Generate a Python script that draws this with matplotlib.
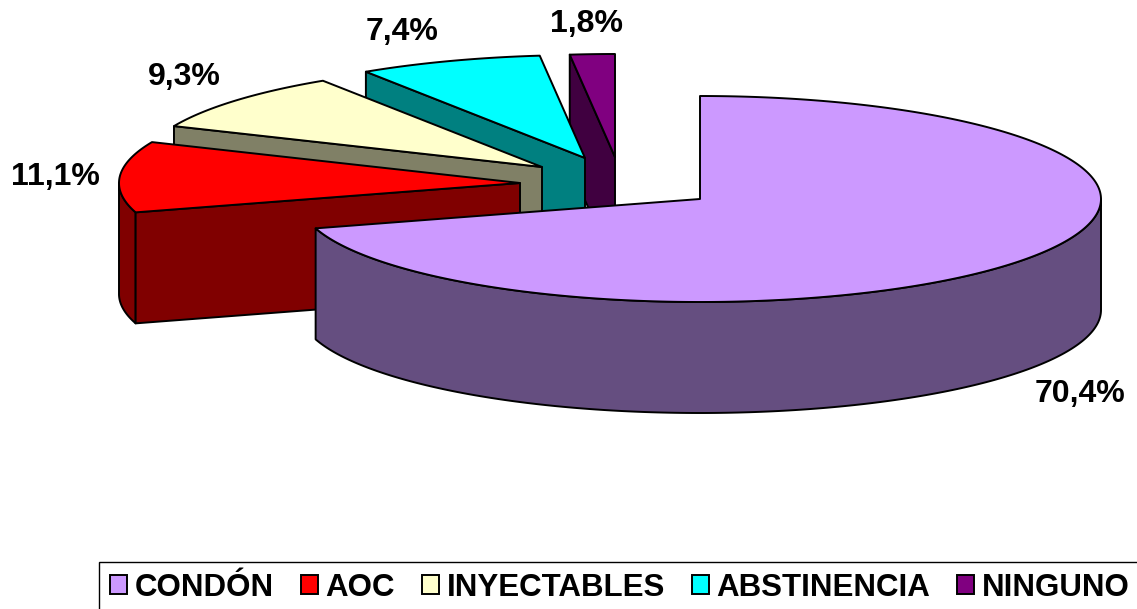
import numpy as np
import matplotlib.pyplot as plt
from matplotlib.patches import Polygon, Patch

# Métodos anticonceptivos (%)
categories = ['CONDÓN', 'AOC', 'INYECTABLES', 'ABSTINENCIA', 'NINGUNO']
percent = [70.4, 11.1, 9.3, 7.4, 1.8]
top_colors = ['#CC99FF', '#FF0000', '#FFFFCC', '#00FFFF', '#800080']
side_colors = ['#654E80', '#800000', '#808066', '#008080', '#400040']

## Layout (pixels)
W, H = 1137, 609
cx, cy = 700, 199          # pie centre
rx, ry = 401, 103          # ellipse radii of the top face
depth = 111                # thickness of the pie
explode = [(0, 0), (-180, -16), (-158, -32), (-115, -41), (-85, -42)]
label_pos = [(1080, 394), (55, 177), (184, 77), (402, 32), (587, 24)]

font = 'Liberation Sans'
lw = 1.4

fig = plt.figure(figsize=(W / 100, H / 100), dpi=100)
ax = fig.add_axes([0, 0, 1, 1])
ax.set_xlim(0, W)
ax.set_ylim(H, 0)
ax.axis('off')


def rim(theta, ox, oy, dz=0.0):
    # angle clockwise from 12 o'clock
    t = np.radians(theta)
    return np.column_stack([ox + rx * np.sin(t), oy - ry * np.cos(t) + dz])


bounds = np.concatenate([[0], np.cumsum(percent)]) / sum(percent) * 360.0

# back slices first, CONDÓN last
for i in reversed(range(len(percent))):
    t0, t1 = bounds[i], bounds[i + 1]
    ox, oy = cx + explode[i][0], cy + explode[i][1]
    kw = dict(edgecolor='black', linewidth=lw, joinstyle='round')

    # outer wall (front half only)
    a, b = max(t0, 90.0), min(t1, 270.0)
    if b > a:
        th = np.linspace(a, b, 200)
        pts = np.vstack([rim(th, ox, oy), rim(th[::-1], ox, oy, depth)])
        ax.add_patch(Polygon(pts, closed=True, facecolor=side_colors[i], **kw))

    # cut face at the start angle
    if np.sin(np.radians(t0)) < -1e-9:
        p = rim(np.array([t0]), ox, oy)[0]
        pts = [(ox, oy), p, (p[0], p[1] + depth), (ox, oy + depth)]
        ax.add_patch(Polygon(pts, closed=True, facecolor=side_colors[i], **kw))

    # top face
    th = np.linspace(t0, t1, 300)
    pts = np.vstack([[[ox, oy]], rim(th, ox, oy)])
    ax.add_patch(Polygon(pts, closed=True, facecolor=top_colors[i], **kw))

# percentage labels
for v, (lx, ly) in zip(percent, label_pos):
    ax.text(lx, ly, f'{v:.1f}%'.replace('.', ','), ha='center', va='center',
            fontsize=23, fontweight='bold', family=font)

handles = [Patch(facecolor=c, edgecolor='black', linewidth=lw) for c in top_colors]
leg = ax.legend(handles, categories, loc='upper left',
                bbox_to_anchor=(99 / W, 1 - 562 / H), bbox_transform=fig.transFigure,
                ncol=5, handlelength=0.55, handleheight=0.55, handletextpad=0.25,
                columnspacing=0.85, borderpad=0.35, borderaxespad=0,
                fancybox=False, framealpha=1,
                prop={'family': font, 'weight': 'bold', 'size': 22.5})
leg.get_frame().set_edgecolor('black')
leg.get_frame().set_linewidth(1.0)

plt.savefig('out.png', dpi=100)
